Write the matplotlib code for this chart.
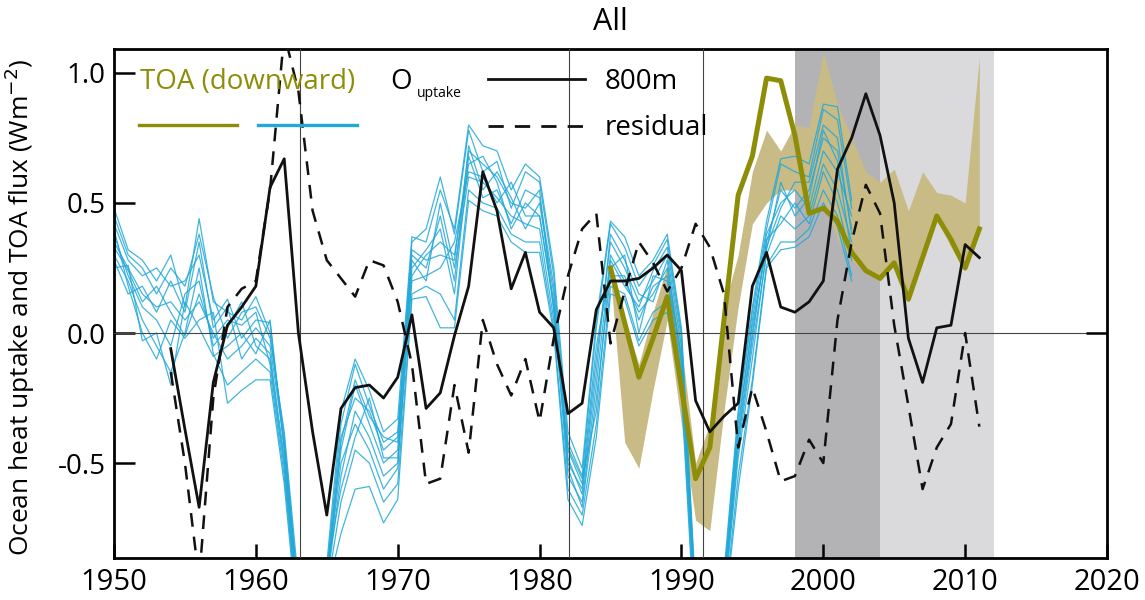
import matplotlib
matplotlib.use("Agg")
import matplotlib.pyplot as plt
import numpy as np

plt.rcParams['font.family'] = ['Open Sans', 'DejaVu Sans']

# ---------------- data ----------------
ens_years = list(range(1950, 2003))
ensemble = [
    [0.48, 0.32, 0.28, 0.20, 0.30, 0.10, 0.44, 0.12, 0.08, 0.05,
     0.14, 0.00, -0.40, -1.00, -1.25, -0.92, -0.35, -0.12, -0.28, -0.42,
     -0.38, 0.35, 0.40, 0.60, 0.38, 0.78, 0.62, 0.66, 0.48, 0.62,
     0.58, 0.22, -0.42, -0.55, 0.02, 0.42, 0.33, 0.18, 0.26, 0.36,
     0.00, -1.02, -1.15, -0.95, -0.32, 0.08, 0.40, 0.65, 0.62, 0.60,
     0.86, 0.82, 0.48],
    [0.42, 0.28, 0.22, 0.25, 0.18, 0.20, 0.30, 0.05, 0.13, -0.02,
     0.05, 0.04, -0.45, -1.05, -1.30, -0.95, -0.45, -0.20, -0.35, -0.50,
     -0.45, 0.30, 0.25, 0.45, 0.20, 0.72, 0.55, 0.62, 0.52, 0.40,
     0.50, 0.15, -0.50, -0.60, -0.10, 0.35, 0.25, 0.12, 0.20, 0.30,
     -0.05, -1.08, -1.20, -1.00, -0.40, 0.00, 0.35, 0.55, 0.48, 0.55,
     0.75, 0.70, 0.40],
    [0.38, 0.22, 0.10, 0.05, -0.05, 0.15, 0.20, -0.05, 0.02, 0.12,
     -0.05, -0.10, -0.50, -1.08, -1.32, -0.97, -0.55, -0.30, -0.40, -0.55,
     -0.50, 0.22, 0.30, 0.35, 0.30, 0.65, 0.68, 0.58, 0.40, 0.50,
     0.45, 0.10, -0.55, -0.65, -0.20, 0.30, 0.20, 0.08, 0.15, 0.25,
     -0.10, -1.10, -1.22, -1.02, -0.45, -0.05, 0.30, 0.45, 0.40, 0.45,
     0.65, 0.55, 0.35],
    [0.35, 0.25, 0.15, 0.10, 0.12, 0.05, 0.12, 0.00, -0.10, -0.05,
     0.02, -0.05, -0.42, -1.02, -1.28, -0.93, -0.40, -0.25, -0.30, -0.45,
     -0.40, 0.28, 0.20, 0.50, 0.25, 0.60, 0.58, 0.52, 0.45, 0.42,
     0.40, 0.05, -0.45, -0.58, -0.05, 0.25, 0.30, 0.00, 0.22, 0.20,
     -0.08, -1.05, -1.18, -0.98, -0.38, 0.05, 0.38, 0.50, 0.55, 0.48,
     0.70, 0.62, 0.45],
    [0.30, 0.20, 0.05, -0.05, -0.15, 0.00, 0.25, -0.08, -0.20, -0.15,
     -0.10, -0.15, -0.55, -1.12, -1.38, -0.99, -0.65, -0.45, -0.50, -0.65,
     -0.58, 0.15, 0.18, 0.15, 0.05, 0.55, 0.50, 0.48, 0.38, 0.35,
     0.35, 0.02, -0.60, -0.70, -0.35, 0.18, 0.15, -0.03, 0.08, 0.12,
     -0.20, -1.15, -1.28, -1.08, -0.55, -0.18, 0.26, 0.35, 0.35, 0.40,
     0.55, 0.45, 0.22],
    [0.45, 0.30, 0.25, 0.15, 0.25, 0.18, 0.38, 0.14, -0.02, 0.08,
     0.10, -0.02, -0.38, -0.96, -1.22, -0.89, -0.30, -0.10, -0.22, -0.38,
     -0.33, 0.37, 0.35, 0.55, 0.40, 0.80, 0.72, 0.70, 0.55, 0.65,
     0.60, 0.25, -0.38, -0.52, 0.05, 0.43, 0.37, 0.22, 0.28, 0.38,
     0.02, -1.00, -1.12, -0.92, -0.30, 0.10, 0.43, 0.67, 0.68, 0.65,
     0.88, 0.87, 0.51],
    [0.40, 0.18, 0.00, -0.10, 0.05, -0.02, 0.05, 0.08, -0.27, -0.22,
     -0.18, -0.18, -0.58, -1.15, -1.40, -1.00, -0.77, -0.60, -0.59, -0.73,
     -0.64, 0.13, 0.14, 0.02, 0.02, 0.51, 0.47, 0.45, 0.35, 0.31,
     0.31, 0.00, -0.64, -0.74, -0.40, 0.15, 0.13, -0.05, 0.05, 0.08,
     -0.23, -1.20, -1.30, -1.10, -0.60, -0.20, 0.25, 0.32, 0.33, 0.37,
     0.50, 0.41, 0.20],
    [0.28, 0.15, 0.18, 0.08, 0.20, 0.08, 0.35, 0.02, 0.10, -0.10,
     -0.02, -0.08, -0.48, -1.06, -1.33, -0.95, -0.50, -0.35, -0.45, -0.60,
     -0.52, 0.25, 0.32, 0.40, 0.15, 0.68, 0.52, 0.55, 0.42, 0.55,
     0.52, 0.18, -0.48, -0.62, -0.15, 0.38, 0.28, 0.15, 0.12, 0.28,
     -0.12, -1.12, -1.24, -1.04, -0.48, -0.10, 0.32, 0.58, 0.45, 0.52,
     0.78, 0.66, 0.30],
    [0.25, 0.26, -0.03, 0.00, -0.20, 0.12, 0.02, -0.09, -0.05, 0.00,
     -0.08, 0.05, -0.44, -1.03, -1.27, -0.91, -0.60, -0.40, -0.25, -0.48,
     -0.48, 0.20, 0.22, 0.25, 0.35, 0.62, 0.60, 0.50, 0.58, 0.45,
     0.45, 0.12, -0.52, -0.67, -0.25, 0.22, 0.22, 0.05, 0.18, 0.22,
     -0.15, -1.08, -1.20, -1.01, -0.42, -0.02, 0.36, 0.42, 0.50, 0.42,
     0.62, 0.50, 0.28],
    [0.33, 0.24, 0.12, 0.18, 0.08, -0.01, 0.15, -0.02, 0.05, 0.03,
     0.08, -0.12, -0.52, -1.10, -1.35, -0.97, -0.42, -0.18, -0.32, -0.40,
     -0.42, 0.32, 0.28, 0.30, 0.28, 0.70, 0.65, 0.60, 0.50, 0.48,
     0.55, 0.08, -0.44, -0.56, -0.30, 0.28, 0.18, 0.10, 0.24, 0.33,
     -0.02, -1.04, -1.16, -0.97, -0.35, 0.03, 0.33, 0.48, 0.58, 0.58,
     0.80, 0.75, 0.38],
]

obs_years = list(range(1954, 2012))
uptake_800m = [
    -0.06, -0.37, -0.67, -0.19, 0.03, 0.10,
    0.18, 0.56, 0.67, 0.00, -0.38, -0.70, -0.29, -0.21, -0.20, -0.25,
    -0.17, 0.07, -0.29, -0.23, -0.01, 0.18, 0.62, 0.47, 0.17, 0.31,
    0.08, 0.02, -0.31, -0.27, 0.09, 0.20, 0.20, 0.21, 0.25, 0.30,
    0.24, -0.26, -0.38, -0.32, -0.27, 0.18, 0.31, 0.10, 0.08, 0.12,
    0.20, 0.63, 0.75, 0.92, 0.76, 0.50, -0.02, -0.19, 0.02, 0.03,
    0.34, 0.29]
residual = [
    -0.15, -0.50, -0.95, -0.25, 0.10, 0.17,
    0.20, 0.55, 1.15, 0.93, 0.47, 0.28, 0.21, 0.14, 0.28, 0.26,
    0.12, -0.12, -0.58, -0.56, -0.20, -0.46, 0.05, -0.12, -0.24, -0.10,
    -0.34, -0.02, 0.22, 0.40, 0.46, -0.04, 0.16, 0.35, 0.27, 0.16,
    0.25, 0.42, 0.33, 0.15, -0.44, -0.21, -0.38, -0.57, -0.55, -0.41,
    -0.50, 0.05, 0.35, 0.57, 0.46, 0.03, -0.28, -0.60, -0.44, -0.35,
    0.00, -0.36]

toa_years = list(range(1985, 2012))
toa = [0.25, 0.04, -0.17, -0.02, 0.14, -0.21, -0.56, -0.44, 0.05, 0.53,
       0.68, 0.98, 0.97, 0.76, 0.46, 0.48, 0.43, 0.31, 0.24, 0.21,
       0.27, 0.13, 0.29, 0.45, 0.36, 0.25, 0.40]
toa_low = [0.22, -0.42, -0.52, -0.22, 0.05, -0.35, -0.72, -0.76, -0.30, 0.10,
           0.42, 0.50, 0.55, 0.55, 0.47, 0.51, 0.36, 0.28, 0.23, 0.20,
           0.27, 0.12, 0.28, 0.44, 0.33, 0.24, 0.38]
toa_high = [0.27, 0.05, -0.12, 0.08, 0.26, -0.05, -0.50, -0.35, 0.10, 0.30,
            0.62, 0.78, 0.70, 0.80, 0.79, 1.08, 0.88, 0.75, 0.62, 0.58,
            0.63, 0.47, 0.62, 0.54, 0.53, 0.50, 1.06]

volcano_years = [1963.1, 1982.1, 1991.5]
dark_period = (1998, 2004)
light_period = (2004, 2012)

x_ticks = [1950, 1960, 1970, 1980, 1990, 2000, 2010, 2020]
y_ticks = [-0.5, 0.0, 0.5, 1.0]
y_ticklabels = ['-0.5', '0.0', '0.5', '1.0']

# ---------------- colours ----------------
OLIVE = '#8d8d08'
BAND = '#c9bb85'
BLUE = '#22a8d8'
DARK_GREY = '#b3b3b6'
LIGHT_GREY = '#dadadc'
INK = '#111111'

fig = plt.figure(figsize=(11.45, 6.0), dpi=100)
ax = fig.add_axes([114/1145, 42/600, 993/1145, 509/600])

ax.axvspan(*dark_period, color=DARK_GREY, lw=0, zorder=0)
ax.axvspan(*light_period, color=LIGHT_GREY, lw=0, zorder=0)

ax.fill_between(toa_years, toa_low, toa_high, color=BAND, lw=0, zorder=1)

for member in ensemble:
    ax.plot(ens_years, member, color=BLUE, lw=0.9, alpha=0.85, zorder=2)

ax.axhline(0, color='#444444', lw=0.8, zorder=3)
for v in volcano_years:
    ax.axvline(v, color='#444444', lw=0.8, zorder=3)

ax.plot(toa_years, toa, color=OLIVE, lw=3.6, zorder=4)
ax.plot(obs_years, uptake_800m, color=INK, lw=2.0, zorder=5)
ax.plot(obs_years, residual, color=INK, lw=1.8, zorder=5, dashes=(5.5, 4.0))

ax.set_xlim(1950, 2020)
ax.set_ylim(-0.865, 1.092)
ax.set_xticks(x_ticks)
ax.set_xticklabels([str(t) for t in x_ticks])
ax.set_yticks(y_ticks)
ax.set_yticklabels(y_ticklabels)
ax.tick_params(axis='x', direction='in', length=10, width=1.8, labelsize=21,
               pad=7, top=False)
ax.tick_params(axis='y', direction='in', length=15, width=1.8, labelsize=20,
               pad=6, right=False)
for s in ax.spines.values():
    s.set_linewidth(2.0)

ax2 = ax.twinx()
ax2.set_ylim(ax.get_ylim())
ax2.set_yticks([0.0])
ax2.set_yticklabels([])
ax2.tick_params(axis='y', direction='in', length=15, width=1.8)
for s in ax2.spines.values():
    s.set_visible(False)

ax.set_ylabel('Ocean heat uptake and TOA flux (Wm$^{-2}$)', fontsize=19)
ax.yaxis.set_label_coords(-0.078, 0.493)
fig.text(610/1145, 1 - 22/600, 'All', ha='center', va='center', fontsize=22)

# legend drawn in axes fraction
T = ax.transAxes
ax.text(0.026, 0.935, 'TOA (downward)', color=OLIVE, fontsize=20,
        ha='left', va='center', transform=T, zorder=6)
ax.plot([0.025, 0.124], [0.851, 0.851], color=OLIVE, lw=2.4, transform=T, zorder=6)
ax.plot([0.145, 0.245], [0.851, 0.851], color=BLUE, lw=2.4, transform=T, zorder=6)
ax.text(0.278, 0.935, 'O', color='black', fontsize=20, ha='left', va='center',
        transform=T, zorder=6)
ax.text(0.305, 0.913, 'uptake', color='black', fontsize=10, ha='left', va='center',
        transform=T, zorder=6)
ax.plot([0.377, 0.474], [0.941, 0.941], color=INK, lw=2.0, transform=T, zorder=6)
ax.plot([0.377, 0.474], [0.849, 0.849], color=INK, lw=2.0, transform=T,
        dashes=(5.5, 4.0), zorder=6)
ax.text(0.494, 0.935, '800m', color='black', fontsize=20, ha='left', va='center',
        transform=T, zorder=6)
ax.text(0.494, 0.845, 'residual', color='black', fontsize=20, ha='left', va='center',
        transform=T, zorder=6)

fig.savefig('out.png', dpi=100)
